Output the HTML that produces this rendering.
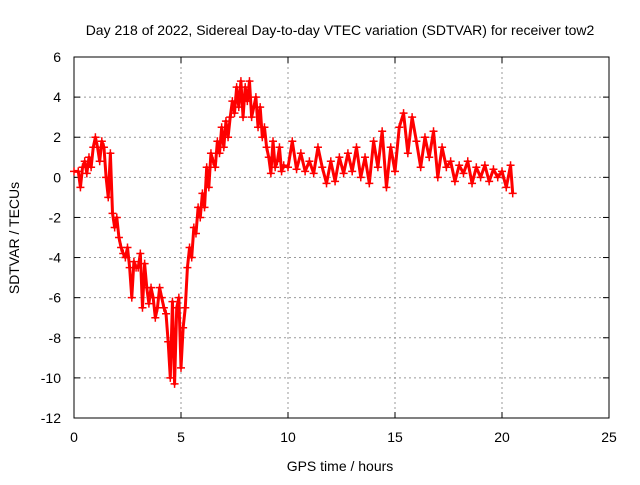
<!DOCTYPE html>
<html><head><meta charset="utf-8"><style>
body{margin:0;background:#fff}
svg text{font-family:"Liberation Sans",sans-serif;font-size:14px;fill:#000}
</style></head><body>
<svg id="chart" width="640" height="480">
<text x="340" y="35" text-anchor="middle">Day 218 of 2022, Sidereal Day-to-day VTEC variation (SDTVAR) for receiver tow2</text>
<text x="340" y="471" text-anchor="middle">GPS time / hours</text>
<text transform="translate(19,238) rotate(-90)" text-anchor="middle">SDTVAR / TECUs</text>
<g id="grid"></g><g id="axes"></g><g id="series"></g>
</svg>
<script>
const xTicks=[0,5,10,15,20,25];
const yTicks=[-12,-10,-8,-6,-4,-2,0,2,4,6];
const hours=[0,0.2,0.3,0.4,0.5,0.6,0.7,0.8,0.9,1.0,1.1,1.2,1.3,1.4,1.5,1.6,1.7,1.8,1.9,2.0,2.1,2.2,2.3,2.4,2.5,2.6,2.7,2.8,2.9,3.0,3.1,3.2,3.3,3.4,3.5,3.6,3.7,3.8,3.9,4.0,4.1,4.2,4.3,4.4,4.5,4.6,4.7,4.8,4.9,5.0,5.1,5.2,5.3,5.4,5.5,5.6,5.7,5.8,5.9,6.0,6.1,6.2,6.3,6.4,6.5,6.6,6.7,6.8,6.9,7.0,7.1,7.2,7.3,7.4,7.5,7.6,7.7,7.8,7.9,8.0,8.1,8.2,8.3,8.4,8.5,8.6,8.7,8.8,8.9,9.0,9.1,9.2,9.3,9.4,9.5,9.6,9.7,9.8,10.0,10.2,10.4,10.6,10.8,11.0,11.2,11.4,11.6,11.8,12.0,12.2,12.4,12.6,12.8,13.0,13.2,13.4,13.6,13.8,14.0,14.2,14.4,14.6,14.8,15.0,15.2,15.4,15.6,15.8,16.0,16.2,16.4,16.6,16.8,17.0,17.2,17.4,17.6,17.8,18.0,18.2,18.4,18.6,18.8,19.0,19.2,19.4,19.6,19.8,20.0,20.2,20.4,20.5];
const sdtvar=[0.3,0.3,-0.5,0.5,0.8,0.2,1.0,0.5,1.5,2.0,1.5,0.8,1.8,1.5,0,-1,1.2,-1.8,-2.5,-2,-3,-3.5,-3.8,-4.0,-3.5,-4.5,-6.0,-4.2,-4.5,-4.5,-3.8,-6.5,-4.3,-5.5,-6.3,-5.5,-6.0,-7.0,-6.5,-5.5,-6.0,-6.5,-6.8,-8.2,-10.0,-6.2,-10.3,-6.5,-6.0,-9.5,-7.5,-6.5,-4.5,-3.5,-4.0,-2.5,-2.8,-1.5,-2.0,-0.8,-1.5,0.5,-0.5,1.2,0.8,0.5,1.8,1.2,2.5,1.5,2.8,2.0,3.0,3.8,3.2,4.5,3.5,4.8,3.0,4.5,3.8,4.8,3.0,3.5,4.0,2.5,3.5,2.0,2.5,1.5,1.0,0.2,1.8,0.5,0.8,1.5,0.3,0.6,0.5,1.8,0.4,1.2,0.3,0.8,0.2,1.5,0.5,-0.3,0.8,-0.2,1.0,0.2,1.2,0.3,1.5,0.0,1.0,-0.3,1.8,0.5,2.3,-0.5,1.5,0.3,2.5,3.2,1.2,3.0,1.8,0.5,2.0,1.0,2.3,0.0,1.5,0.5,0.8,-0.2,0.6,0.2,0.8,-0.3,0.5,0.0,0.6,-0.2,0.4,0.0,0.3,-0.5,0.6,-0.8];
const NS='http://www.w3.org/2000/svg';
const L=74,R=609,T=57,B=418;
const xs=v=>L+(v-0)/(25-0)*(R-L);
const ys=v=>B-(v+12)/(18)*(B-T);
function mk(tag,attrs,parent){const e=document.createElementNS(NS,tag);for(const k in attrs)e.setAttribute(k,attrs[k]);parent.appendChild(e);return e;}
const grid=document.getElementById('grid'),axes=document.getElementById('axes'),series=document.getElementById('series');
xTicks.forEach(t=>{const x=xs(t);
 if(t>0&&t<25){const g=mk('line',{x1:x,x2:x,y1:T,y2:B,stroke:'#999','stroke-dasharray':'2,3','stroke-width':1},grid);
 
 }
 mk('line',{x1:x,x2:x,y1:B,y2:B-6,stroke:'#000'},axes);mk('line',{x1:x,x2:x,y1:T,y2:T+6,stroke:'#000'},axes);
 const tx=mk('text',{x:x,y:B+24,'text-anchor':'middle'},axes);tx.textContent=t;
 
 });
yTicks.forEach(t=>{const y=ys(t);
 if(t>-12&&t<6){const g=mk('line',{x1:L,x2:R,y1:y,y2:y,stroke:'#999','stroke-dasharray':'2,3','stroke-width':1},grid);
 
 }
 mk('line',{x1:L,x2:L+6,y1:y,y2:y,stroke:'#000'},axes);mk('line',{x1:R,x2:R-6,y1:y,y2:y,stroke:'#000'},axes);
 const tx=mk('text',{x:L-13,y:y+5,'text-anchor':'end'},axes);tx.textContent=t;
 
 });
const frame=mk('rect',{x:L,y:T,width:R-L,height:B-T,fill:'none',stroke:'#000'},axes);


let pts=hours.map((h,i)=>xs(h)+','+ys(sdtvar[i])).join(' ');
const pl=mk('polyline',{points:pts,fill:'none',stroke:'#f00','stroke-width':3,'stroke-linejoin':'round'},series);


hours.forEach((h,i)=>{const x=xs(h),y=ys(sdtvar[i]);
 const p=mk('path',{d:`M${x-4},${y}H${x+4}M${x},${y-4}V${y+4}`,stroke:'#f00','stroke-width':1.5},series);
 
 });
</script>
</body></html>
